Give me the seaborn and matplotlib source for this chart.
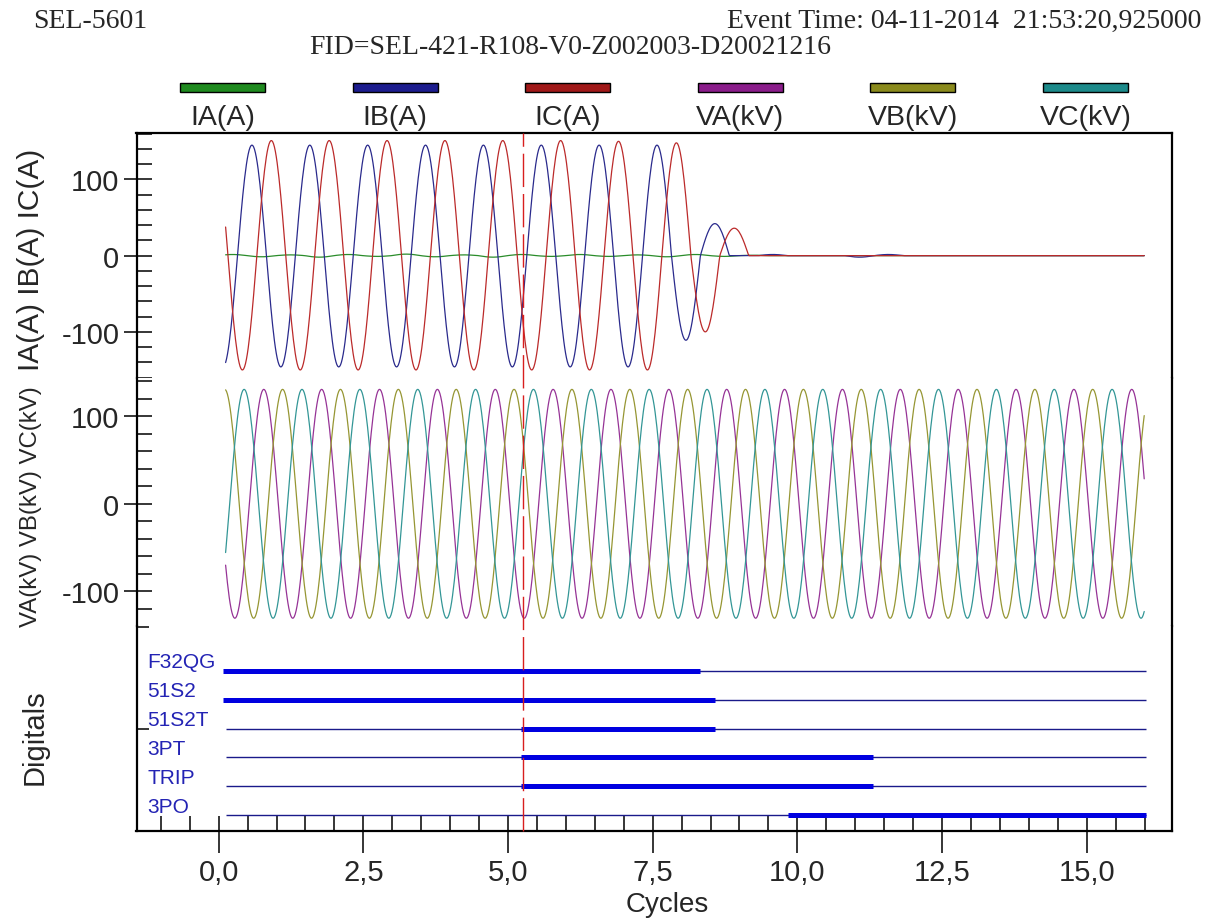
import numpy as np
import pandas as pd
import matplotlib
matplotlib.use("Agg")
import matplotlib.pyplot as plt
import matplotlib.transforms as mtrans
from matplotlib.lines import Line2D
from matplotlib.patches import Rectangle
from matplotlib.ticker import MultipleLocator, FixedLocator, FuncFormatter
import seaborn as sns

# ------------------------------------------------------------
# data (time axis in cycles)
# ------------------------------------------------------------
T_START, T_END = 0.12, 16.0

# currents: signed peak of every half-cycle lobe, lobes are 0.5 cycle apart
IA_FIRST = -0.26
IA_HALF = [-1.0, 1.5, -1.5, 1.0, -2.0, 1.5, -1.0, 2.0, -1.5, 1.0, -2.0, 1.5,
           -1.0, 1.5, -1.0, 1.0, -1.5, 1.5, -1.0, 0.5]
IB_FIRST = 0.075
IB_HALF = [-146, 145, -146, 145, -146, 145, -146, 145, -146, 145, -146, 145,
           -146, 145, -146, 145, -111, 42, 0, 1.5, 0, 0, -2.0, 1.5]
IC_FIRST = -0.09
IC_HALF = [151, -150, 151, -150, 151, -150, 151, -150, 151, -150, 151, -150,
           151, -150, 150, -150, 148, -100, 36]

# voltages: time of first positive peak (cycles) and peak value (kV)
V_NAMES = ['VA(kV)', 'VB(kV)', 'VC(kV)']
V_PEAK_T = [0.78, 0.105, 0.44]
V_PEAK = [131, 131, 131]

# digitals: rows top to bottom, asserted interval (cycles)
DIG_NAMES = ['F32QG', '51S2', '51S2T', '3PT', 'TRIP', '3PO']
DIG_ON_START = [0.07, 0.07, 5.23, 5.23, 5.23, 9.84]
DIG_ON_END = [8.31, 8.57, 8.57, 11.31, 11.31, 16.02]
DIG_SPAN = (0.12, 16.02)

CURSOR_T = 5.257

LEGEND_NAMES = ['IA(A)', 'IB(A)', 'IC(A)', 'VA(kV)', 'VB(kV)', 'VC(kV)']
LEGEND_BAR = ['#1f8a1f', '#1c1c8e', '#a01818', '#8a1c8a', '#8a8a1c', '#1c8a8a']
LINE_COL = {'IA(A)': '#2a8c2a', 'IB(A)': '#2a2a8c', 'IC(A)': '#bb2a2a',
            'VA(kV)': '#963396', 'VB(kV)': '#969633', 'VC(kV)': '#339696'}


def lobes(t, first, half):
    y = np.zeros_like(t)
    for k, v in enumerate(half):
        c = first + 0.5 * k
        m = np.abs(t - c) <= 0.25
        y[m] = v * np.cos(2 * np.pi * (t[m] - c))
    return y


t = np.arange(T_START, T_END, 1 / 64)
cur_df = pd.concat([
    pd.DataFrame({'t': t, 'val': lobes(t, IA_FIRST, IA_HALF), 'sig': 'IA(A)'}),
    pd.DataFrame({'t': t, 'val': lobes(t, IB_FIRST, IB_HALF), 'sig': 'IB(A)'}),
    pd.DataFrame({'t': t, 'val': lobes(t, IC_FIRST, IC_HALF), 'sig': 'IC(A)'}),
], ignore_index=True)
volt_df = pd.concat([
    pd.DataFrame({'t': t, 'val': a * np.cos(2 * np.pi * (t - tp)), 'sig': n})
    for n, tp, a in zip(V_NAMES, V_PEAK_T, V_PEAK)
], ignore_index=True)

# ------------------------------------------------------------
# style
# ------------------------------------------------------------
sns.set_style("white")
plt.rcParams['font.family'] = ['Liberation Sans', 'DejaVu Sans']
plt.rcParams['axes.unicode_minus'] = False
SERIF = ['Liberation Serif', 'DejaVu Serif']

W, H = 1207, 920
fig = plt.figure(figsize=(W / 100, H / 100), dpi=100)
fig.patch.set_facecolor('white')

L, R = 136.5, 1171.7
def px_axes(top, bottom):
    return fig.add_axes([L / W, 1 - bottom / H, (R - L) / W, (bottom - top) / H])

ax_i = px_axes(133.5, 379.4)
ax_v = px_axes(379.4, 626.7)
ax_d = px_axes(626.7, 831.7)

XLIM = (-1.42, 16.47)
PX = 1 / 100 * 72   # pt per pixel
TICK_FS = 21

# ------------------------------------------------------------
# analog panels
# ------------------------------------------------------------
sns.lineplot(data=cur_df, x='t', y='val', hue='sig', palette=LINE_COL,
             hue_order=['IA(A)', 'IB(A)', 'IC(A)'], estimator=None,
             linewidth=0.9, legend=False, ax=ax_i)
sns.lineplot(data=volt_df, x='t', y='val', hue='sig', palette=LINE_COL,
             hue_order=V_NAMES, estimator=None,
             linewidth=0.9, legend=False, ax=ax_v)
ax_i.set_ylim(-161, 161.5)
ax_v.set_ylim(-139.5, 143.5)

for ax in (ax_i, ax_v):
    ax.yaxis.set_major_locator(FixedLocator([-100, 0, 100]))
    ax.yaxis.set_minor_locator(MultipleLocator(20))
    ax.yaxis.remove_overlapping_locs = False
    ax.tick_params(axis='y', which='major', direction='out', length=13 * PX,
                   width=1.3, labelsize=TICK_FS, pad=3, left=True)
    ax.tick_params(axis='y', which='minor', direction='in', length=14.5 * PX,
                   width=1.3, left=True)

# ------------------------------------------------------------
# digital panel
# ------------------------------------------------------------
rows = np.arange(len(DIG_NAMES), 0, -1)
ax_d.hlines(rows, DIG_SPAN[0], DIG_SPAN[1], color='#1a1a8a', linewidth=1.0)
ax_d.hlines(rows, DIG_ON_START, DIG_ON_END, color='#0000e0', linewidth=3.6)
for r, name in zip(rows, DIG_NAMES):
    ax_d.text(-1.23, r + 0.13, name, color='#2323b4', fontsize=15,
              ha='left', va='baseline')
ax_d.set_ylim(0.469, 7.552)
ax_d.yaxis.set_major_locator(FixedLocator([4, 7.5]))
ax_d.tick_params(axis='y', which='major', direction='in', length=12 * PX,
                 width=1.3, labelleft=False, left=True)

ax_d.xaxis.set_major_locator(MultipleLocator(2.5))
ax_d.xaxis.set_minor_locator(MultipleLocator(0.5))
ax_d.xaxis.remove_overlapping_locs = False
ax_d.xaxis.set_major_formatter(FuncFormatter(lambda v, p: f"{v:.1f}".replace('.', ',')))
ax_d.tick_params(axis='x', which='major', direction='out', length=22 * PX,
                 width=1.3, labelsize=TICK_FS, pad=4, bottom=True)
ax_d.tick_params(axis='x', which='minor', direction='in', length=15 * PX,
                 width=1.3, bottom=True)

# ------------------------------------------------------------
# frame: one box around the three panels
# ------------------------------------------------------------
for ax in (ax_i, ax_v, ax_d):
    ax.set_xlim(*XLIM)
    ax.set_xlabel('')
    ax.set_ylabel('')
    ax.set_facecolor('white')
    for s in ax.spines.values():
        s.set_color('black')
        s.set_linewidth(1.6)
    ax.spines['top'].set_visible(ax is ax_i)
    ax.spines['bottom'].set_visible(ax is ax_d)
    if ax is not ax_d:
        ax.tick_params(axis='x', which='both', bottom=False, labelbottom=False)

# cursor line across all panels
trans = mtrans.blended_transform_factory(ax_d.transData, fig.transFigure)
fig.add_artist(Line2D([CURSOR_T, CURSOR_T], [1 - 831.7 / H, 1 - 133.5 / H],
                      transform=trans, color='#d81e1e', linewidth=1.0,
                      dashes=(24, 5), zorder=5))

# ------------------------------------------------------------
# header, legend strip and labels
# ------------------------------------------------------------
HEAD_FS = 20
fig.text(33 / W, 1 - 21 / H, 'SEL-5601', family=SERIF, fontsize=HEAD_FS, va='center')
fig.text(1201 / W, 1 - 21 / H, 'Event Time: 04-11-2014  21:53:20,925000',
         family=SERIF, fontsize=HEAD_FS, va='center', ha='right')
fig.text(570 / W, 1 - 47 / H, 'FID=SEL-421-R108-V0-Z002003-D20021216',
         family=SERIF, fontsize=HEAD_FS, va='center', ha='center')

for i, (name, col) in enumerate(zip(LEGEND_NAMES, LEGEND_BAR)):
    cx = 222.5 + 172.6 * i
    fig.add_artist(Rectangle(((cx - 42.5) / W, 1 - 93 / H), 85 / W, 9 / H,
                             transform=fig.transFigure, facecolor=col,
                             edgecolor='black', linewidth=1.0))
    fig.text(cx / W, 1 - 118 / H, name, fontsize=20.5, ha='center', va='center')

fig.text(31 / W, 1 - 260 / H, 'IA(A) IB(A) IC(A)', fontsize=21.5,
         rotation=90, ha='center', va='center')
fig.text(31 / W, 1 - 506.7 / H, 'VA(kV) VB(kV) VC(kV)', fontsize=17.3,
         rotation=90, ha='center', va='center')
fig.text(35 / W, 1 - 737.5 / H, 'Digitals', fontsize=21,
         rotation=90, ha='center', va='center')
fig.text(667 / W, 1 - 905 / H, 'Cycles', fontsize=20, ha='center', va='center')

fig.savefig('out.png', dpi=100)
